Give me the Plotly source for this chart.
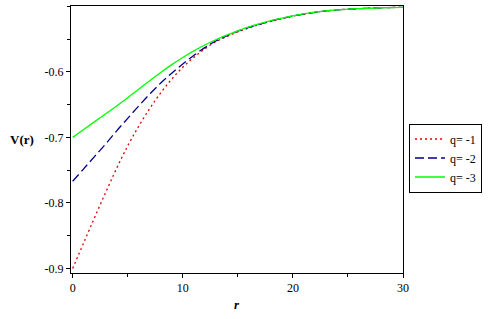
import plotly.graph_objects as go

r = [0, 1, 2, 3, 4, 5, 6, 7, 8, 9, 10, 11, 12, 13, 14, 15, 16, 17, 18, 19, 20, 22, 24, 26, 28, 30]
v_q1 = [-0.900, -0.861, -0.822, -0.784, -0.747, -0.713, -0.683, -0.656, -0.632, -0.611,
        -0.593, -0.578, -0.565, -0.554, -0.546, -0.539, -0.533, -0.5275, -0.523, -0.519,
        -0.515, -0.5092, -0.5056, -0.5035, -0.5022, -0.5015]
v_q2 = [-0.767, -0.748, -0.729, -0.710, -0.690, -0.671, -0.652, -0.634, -0.617, -0.602,
        -0.588, -0.575, -0.563, -0.553, -0.545, -0.538, -0.532, -0.527, -0.5225, -0.5185,
        -0.5148, -0.5091, -0.5055, -0.5035, -0.5022, -0.5015]
v_q3 = [-0.700, -0.688, -0.676, -0.664, -0.652, -0.6395, -0.6265, -0.6135, -0.601, -0.589,
        -0.578, -0.568, -0.559, -0.551, -0.544, -0.5375, -0.5315, -0.5265, -0.522, -0.518,
        -0.5145, -0.509, -0.5055, -0.5035, -0.5022, -0.5015]
names = ["q= -1", "q= -2", "q= -3"]
x_ticks = [0, 10, 20, 30]
y_ticks = [-0.9, -0.8, -0.7, -0.6]
y_tick_labels = ["-0.9", "-0.8", "-0.7", "-0.6"]

serif = "Liberation Serif, Times New Roman, serif"

fig = go.Figure()
fig.add_trace(go.Scatter(x=r, y=v_q1, mode="lines", name=names[0],
                         line=dict(color="#e00000", width=1.3, dash="2px,3px", shape="spline")))
fig.add_trace(go.Scatter(x=r, y=v_q2, mode="lines", name=names[1],
                         line=dict(color="#00008b", width=1.3, dash="9px,4px", shape="spline")))
fig.add_trace(go.Scatter(x=r, y=v_q3, mode="lines", name=names[2],
                         line=dict(color="#00ff00", width=1.3, shape="spline")))

fig.update_layout(
    width=492, height=319,
    margin=dict(l=71, r=89, t=6, b=46),
    paper_bgcolor="white", plot_bgcolor="white",
    font=dict(family=serif, size=12, color="black"),
    showlegend=True,
    legend=dict(xref="container", yref="container", x=409/492, y=1-158/319,
                xanchor="left", yanchor="middle",
                bordercolor="black", borderwidth=1, bgcolor="white",
                itemwidth=30, font=dict(family=serif, size=12), tracegroupgap=0),
    annotations=[
        dict(text="<b>V(r)</b>", xref="paper", yref="paper", x=-0.148, y=0.5,
             xanchor="center", yanchor="middle", showarrow=False,
             font=dict(family=serif, size=13)),
        dict(text="<b><i>r</i></b>", xref="paper", yref="paper", x=0.5, y=-0.118,
             xanchor="center", yanchor="middle", showarrow=False,
             font=dict(family=serif, size=13)),
    ],
)
fig.update_xaxes(
    range=[-0.15, 30], tickvals=x_ticks, ticks="outside", ticklen=4, tickcolor="black",
    showline=True, linecolor="black", linewidth=1, mirror=True,
    showgrid=False, zeroline=False, automargin=False,
    minor=dict(ticks="outside", ticklen=3, dtick=5, tick0=0, tickcolor="black", showgrid=False),
    tickfont=dict(family=serif, size=12),
)
fig.update_yaxes(
    range=[-0.907, -0.4995], tickvals=y_ticks, ticktext=y_tick_labels,
    ticks="outside", ticklen=4, tickcolor="black",
    showline=True, linecolor="black", linewidth=1, mirror=True,
    showgrid=False, zeroline=False, automargin=False,
    minor=dict(ticks="outside", ticklen=3, dtick=0.05, tick0=-0.9, tickcolor="black", showgrid=False),
    tickfont=dict(family=serif, size=12),
)
fig.write_html("out.html", config={"displayModeBar": False},
               post_script="document.body.style.margin='0';document.body.style.padding='0';")
